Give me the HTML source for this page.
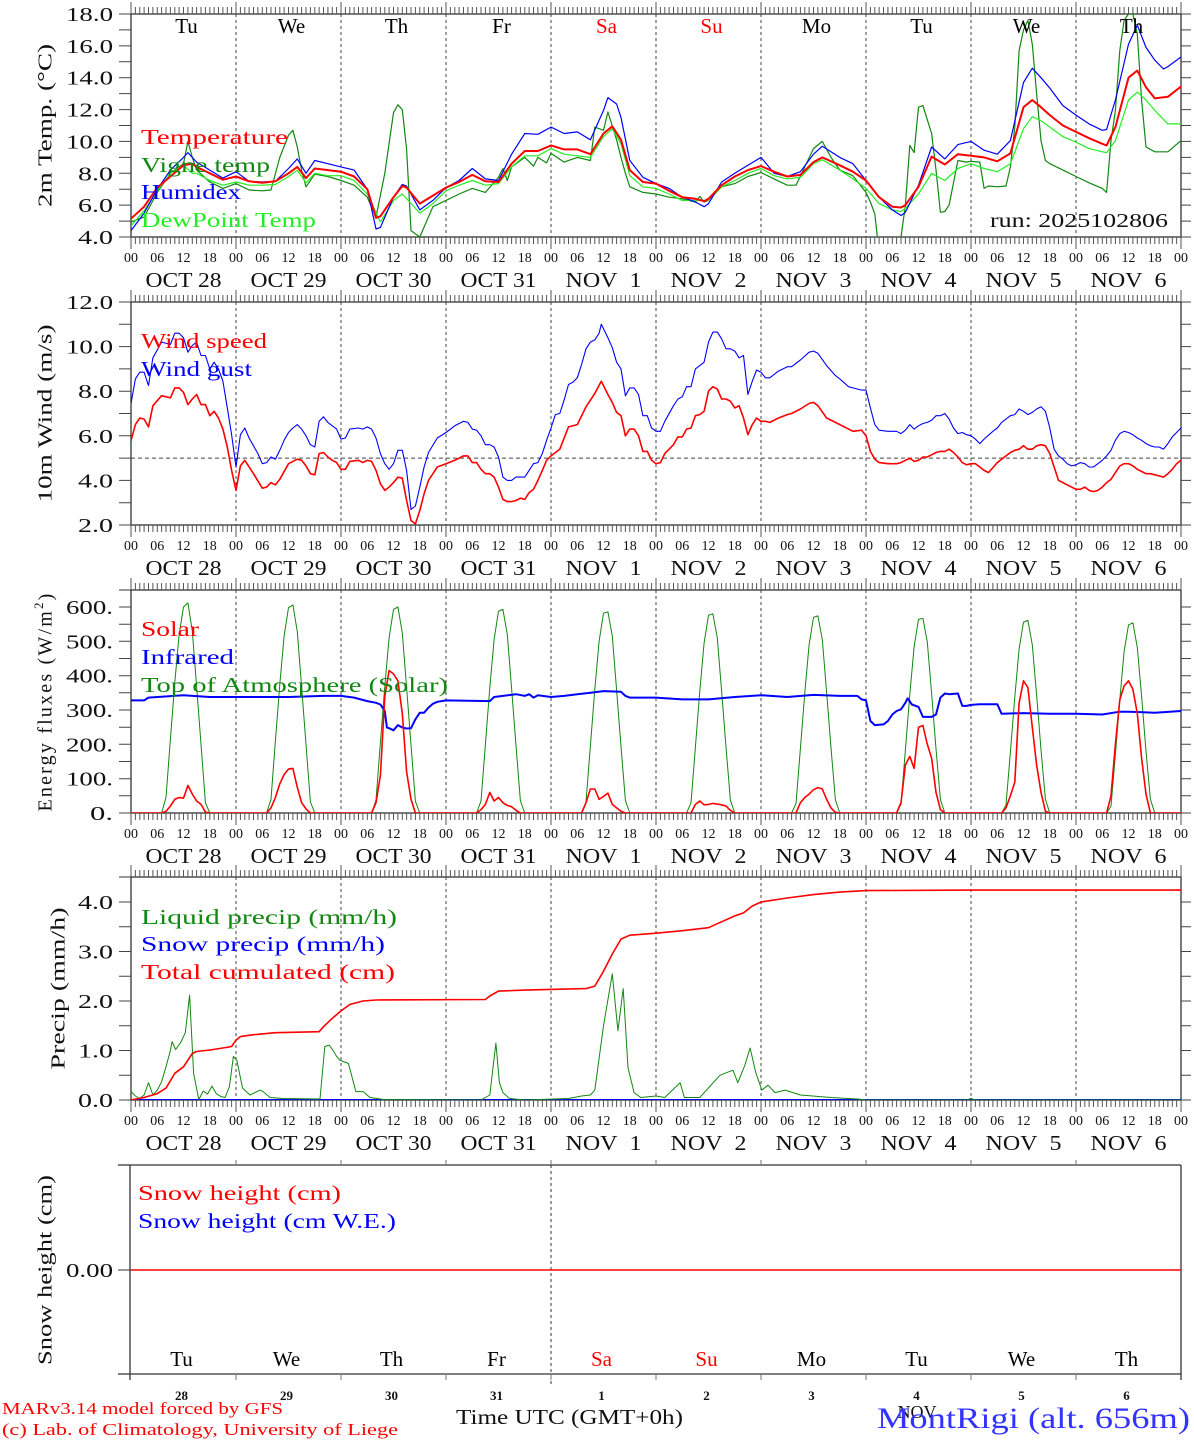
<!DOCTYPE html>
<html><head><meta charset="utf-8"><title>MontRigi MAR forecast</title>
<style>
html,body{margin:0;padding:0;background:#fff;}
svg{display:block;font-family:"Liberation Serif",serif;}
</style></head>
<body>
<svg id="chart" xmlns="http://www.w3.org/2000/svg" width="1194" height="1440" viewBox="0 0 1194 1440"></svg>
<script>
// ---------- DATA ----------
const dayNames = ['Tu','We','Th','Fr','Sa','Su','Mo','Tu','We','Th'];
const dayNameColors = ['#000','#000','#000','#000','#f00','#f00','#000','#000','#000','#000'];
const dateLabels = ['OCT 28','OCT 29','OCT 30','OCT 31','NOV\u00a0\u00a01','NOV\u00a0\u00a02','NOV\u00a0\u00a03','NOV\u00a0\u00a04','NOV\u00a0\u00a05','NOV\u00a0\u00a06'];
const dayNums = ['28','29','30','31','1','2','3','4','5','6'];

const tempH = [0,3,6,9,12,14,15,18,21,24,27,30,33,36,38,40,42,45,48,51,54,56,57,60,62,63,66,69,72,75,78,81,84,87,90,93,96,99,102,105,108,110,112,114,117,120,123,126,129,131,132,135,138,141,144,147,150,153,156,158,162,165,168,171,174,176,177,180,183,186,189,192,195,198,201,204,206,208,210,213,216,219,222,223,225,228,230,232,234,237,240];
const tempV = [5.15,5.9,7.1,7.8,8.5,8.6,8.4,8.0,7.6,7.8,7.5,7.4,7.5,8.0,8.4,7.7,8.3,8.2,8.1,7.8,7.0,5.2,5.3,6.5,7.2,7.1,6.1,6.6,7.1,7.45,7.9,7.5,7.45,8.6,9.4,9.4,9.75,9.5,9.5,9.2,10.5,10.95,10.1,8.2,7.45,7.35,6.9,6.5,6.4,6.25,6.4,7.25,7.8,8.2,8.45,8.1,7.8,7.9,8.7,9.0,8.5,8.1,7.55,6.5,5.9,5.85,6.0,7.15,9.05,8.55,9.2,9.1,9.0,8.75,9.25,12.15,12.6,12.15,11.65,11.0,10.6,10.2,9.85,9.75,10.9,14.0,14.45,13.4,12.7,12.8,13.45];

const humH = [0,3,6,9,12,13,15,18,21,24,27,30,33,36,38,40,42,45,48,51,54,56,57,60,62,63,66,69,72,75,78,81,84,87,90,93,96,99,102,105,108,109,111,112,114,117,120,123,126,129,131,132,135,138,141,144,147,150,153,156,158,162,165,168,171,174,176,177,180,183,186,189,192,195,198,201,204,206,208,210,213,216,219,222,223,225,228,230,232,234,236,237,240];
const humV = [4.4,5.5,7.0,8.2,9.0,9.3,8.7,8.2,7.7,8.1,7.5,7.45,7.5,8.3,8.9,8.0,8.8,8.6,8.4,8.2,7.0,4.5,4.6,6.5,7.3,7.2,5.7,6.3,7.1,7.55,8.3,7.65,7.55,9.2,10.5,10.45,10.9,10.5,10.6,10.1,11.95,12.75,12.35,11.5,8.8,7.75,7.35,7.05,6.5,6.2,5.9,6.1,7.45,8.0,8.5,9.0,8.0,7.8,8.1,9.2,9.7,9.0,8.6,7.55,6.5,5.7,5.35,5.55,7.25,9.65,8.9,9.8,10.0,9.45,9.2,10.05,13.7,14.6,14.0,13.35,12.25,11.65,11.1,10.7,10.75,12.6,16.1,17.3,15.9,15.1,14.55,14.7,15.3];

const dewH = [0,3,6,9,12,14,15,18,21,24,27,30,33,36,38,40,42,45,48,51,54,57,60,62,66,69,72,75,78,81,84,87,90,93,96,99,102,105,108,110,112,114,117,120,123,126,129,132,135,138,141,144,147,150,153,156,158,162,165,168,171,174,176,177,180,183,186,189,192,195,198,201,204,206,208,210,213,216,219,222,223,225,228,230,232,234,237,240];
const dewV = [4.7,5.65,6.9,8.0,8.5,8.0,8.0,7.55,7.25,7.45,7.25,7.25,7.3,7.8,8.2,7.4,8.0,7.85,7.85,7.55,6.7,4.95,6.3,6.7,5.5,6.1,6.9,7.25,7.55,7.25,7.35,8.4,9.1,9.1,9.55,9.2,9.1,9.0,10.3,10.8,9.85,7.85,7.15,7.05,6.7,6.3,6.3,6.3,7.15,7.55,8.0,8.3,7.85,7.65,7.75,8.6,8.85,8.2,7.65,7.05,6.1,5.7,5.6,5.8,6.7,8.0,7.55,8.3,8.6,8.3,8.1,8.6,10.8,11.55,11.3,10.9,10.3,9.95,9.55,9.35,9.3,10.05,12.6,13.1,12.6,11.95,11.1,11.1];

const vigneH = [0,3,6,9,12,13,14,15,18,21,24,27,30,32,34,36,37,38,39,40,42,45,48,51,54,56,58,60,61,62,63,64,66,69,72,75,78,81,84,85,86,87,90,92,93,95,96,99,102,105,106,108,109,111,112,113,114,117,120,123,126,129,130,131,132,135,138,141,144,147,150,152,156,158,160,162,165,168,169,170,171,174,175,176,177,178,179,180,181,183,184,185,186,187,189,191,192,194,195,196,198,200,201,202,203,204,205,206,207,208,209,210,213,216,219,222,223,224,225,226,227,228,229,230,231,232,234,237,240];
const vigneV = [4.95,5.25,6.8,8.0,8.6,10.0,9.0,8.2,7.45,7.05,7.35,6.95,6.9,6.95,9.0,10.4,10.7,9.65,8.2,7.15,7.95,7.8,7.55,7.25,6.5,5.25,8.0,11.8,12.3,12.0,9.5,4.4,4.0,5.9,6.3,6.7,7.05,6.8,7.75,8.3,7.55,8.4,9.0,8.45,9.0,8.65,9.25,8.7,9.0,8.8,10.9,10.7,11.85,10.1,9.0,8.0,7.15,6.8,6.7,6.5,6.4,6.2,6.55,6.2,6.3,7.15,7.35,7.8,8.05,7.65,7.25,7.25,9.55,10.0,9.0,8.2,7.85,6.8,6.2,5.45,3.0,2.0,2.0,4.0,6.0,9.75,9.3,12.15,12.25,10.5,8.2,5.55,5.6,6.0,8.8,8.7,8.75,8.7,7.05,7.2,7.15,7.2,8.4,10.9,15.7,17.0,17.6,16.1,13.0,10.05,8.8,8.6,8.2,7.8,7.4,7.05,6.8,10.05,11.95,15.7,17.6,18.0,18.0,16.75,12.6,9.65,9.35,9.35,10.05];

const windH = [0,1,2,3,4,5,7,9,10,11,12,13,14,15,16,17,18,19,20,21,22,23,24,25,26,28,30,31,32,33,34,36,38,39,40,41,42,43,44,45,46,47,48,49,50,52,53,54,55,56,57,58,59,60,61,62,63,64,65,66,67,68,70,72,74,76,77,78,79,80,81,82,83,84,85,86,87,88,89,90,91,92,93,94,95,96,98,100,102,104,106,107.5,109,110,111,112,113,114,115,116,117,118,119,120,121,122,124,125,126,127,128,129,130,131,132,133,134,135,136,137,138,139,140,141,142,143,144,145,146,148,150,151,153,155,156,157,159,161,162,164,165,167,168,169,170,171,173,175,176,177,178,179,180,181,182,183,184,185,186,187,188,189,190,191,192,193,194,195,196,198,199,201,202,203,204,205,206,207,208,209,210,211,212,213,214,215,216,217,218,219,220,221,222,223,224,225,226,227,228,229,230,231,232,233,234,235,236,237,238,239,240];
const windV = [5.78,6.5,6.8,6.75,6.4,7.35,7.8,7.7,8.15,8.15,7.95,7.4,7.65,7.85,7.4,7.4,6.9,7.1,6.8,6.3,5.5,4.45,3.55,4.65,4.9,4.3,3.65,3.7,3.9,3.8,4.05,4.75,4.95,4.9,4.65,4.3,4.25,5.2,5.25,5.05,4.9,4.8,4.5,4.5,4.85,4.9,4.8,4.9,4.85,4.45,3.85,3.55,3.7,3.9,4.15,4.1,3.1,2.2,2.05,2.65,3.4,4.0,4.6,4.75,4.9,5.1,5.1,4.8,4.8,4.5,4.3,4.3,4.15,3.7,3.15,3.05,3.05,3.1,3.2,3.15,3.45,3.6,4.0,4.45,4.9,5.1,5.4,6.4,6.5,7.3,7.9,8.45,7.85,7.5,7.05,6.9,6.0,6.3,6.3,6.0,5.3,5.3,4.9,4.75,4.8,5.2,5.6,5.95,5.95,6.3,6.35,6.9,6.95,7.1,8.0,8.2,8.1,7.65,7.65,7.55,7.25,7.35,6.8,6.05,6.5,6.8,6.65,6.65,6.6,6.8,6.95,7.0,7.2,7.45,7.5,7.35,6.8,6.6,6.5,6.3,6.2,6.25,6.0,5.3,4.95,4.8,4.75,4.75,4.8,4.9,5.0,4.85,4.9,5.05,5.05,5.15,5.25,5.3,5.3,5.4,5.25,5.05,4.8,4.7,4.75,4.75,4.6,4.45,4.35,4.8,4.95,5.25,5.35,5.4,5.55,5.4,5.4,5.55,5.6,5.55,5.2,4.6,4.0,3.9,3.8,3.7,3.6,3.6,3.7,3.55,3.5,3.55,3.7,3.9,4.05,4.35,4.65,4.75,4.75,4.65,4.5,4.4,4.3,4.3,4.25,4.2,4.15,4.3,4.5,4.75,4.9];

const gustH = [0,1,2,3,4,5,7,9,10,11,12,13,14,15,16,17,18,19,20,21,22,23,24,25,26,27,28,29,30,31,32,33,34,35,36,37,38,39,40,41,42,43,44,45,46,47,48,49,50,52,53,54,55,56,57,58,59,60,61,62,63,64,65,66,67,68,70,72,74,76,77,78,79,80,81,82,83,84,85,86,87,88,89,90,91,92,93,94,95,96,97,98,99,100,101,102,103,104,105,106,107,107.5,109,110,111,112,113,114,115,116,117,118,119,120,121,122,124,125,126,127,128,129,130,131,132,133,134,135,136,137,138,139,140,141,142,143,144,145,146,148,150,151,153,155,156,157,159,161,162,164,165,167,168,169,170,171,173,175,176,177,178,179,180,181,182,183,184,185,186,187,188,189,190,191,192,193,194,195,197,198,199,201,202,203,204,205,206,207,208,209,210,211,212,213,214,215,216,217,218,219,220,221,222,223,224,225,226,227,228,229,230,231,232,233,234,235,236,237,238,239,240];
const gustV = [7.45,8.55,8.85,8.85,8.25,9.5,10.2,10.1,10.6,10.6,10.4,9.75,10.05,10.2,9.6,9.6,9.0,9.3,9.0,8.45,7.25,6.05,4.6,6.05,6.35,5.9,5.55,5.2,4.75,4.8,5.05,4.95,5.35,5.8,6.15,6.35,6.5,6.3,6.0,5.6,5.5,6.65,6.85,6.6,6.45,6.3,5.85,5.9,6.3,6.35,6.3,6.4,6.3,5.9,5.2,4.75,4.5,4.75,5.35,5.35,4.45,2.7,2.85,3.7,4.6,5.25,5.9,6.15,6.45,6.65,6.6,6.3,6.25,6.0,5.6,5.6,5.5,5.05,4.15,4.0,4.0,4.15,4.15,4.15,4.45,4.75,4.8,5.2,5.8,6.35,6.95,7.0,7.6,8.3,8.4,8.6,9.2,9.9,10.2,10.3,10.6,11.0,10.4,9.95,9.3,9.0,7.8,8.15,8.15,7.85,6.9,6.9,6.35,6.2,6.2,6.65,7.35,7.65,7.75,8.2,8.2,9.0,9.15,9.3,10.2,10.65,10.65,10.35,9.9,9.9,9.8,9.5,9.6,7.85,8.45,8.95,8.85,8.6,8.6,8.9,9.1,9.1,9.4,9.75,9.8,9.7,9.15,8.7,8.55,8.2,8.15,8.05,8.05,7.25,6.5,6.25,6.2,6.2,6.1,6.25,6.5,6.3,6.45,6.55,6.6,6.7,6.9,6.9,7.0,6.75,6.35,6.1,6.15,6.05,6.0,5.85,5.65,5.85,6.2,6.35,6.6,6.9,6.95,7.2,7.1,6.95,7.05,7.2,7.3,7.1,6.35,5.4,5.1,4.95,4.75,4.65,4.7,4.8,4.75,4.6,4.6,4.75,4.9,5.1,5.35,5.8,6.1,6.2,6.15,6.05,5.9,5.8,5.65,5.55,5.5,5.5,5.4,5.65,5.95,6.15,6.35];

const fluxHours = [7,8,9,10,11,12,13,14,15,16,17,18];
const toaDay = [
 [0,45,215,380,520,600,612,530,370,200,30,0],
 [0,40,210,375,515,598,606,528,368,200,32,0],
 [0,38,205,370,510,593,600,525,365,198,34,0],
 [0,35,200,365,505,588,593,520,362,196,35,0],
 [0,32,196,360,500,582,586,515,358,194,36,0],
 [0,30,192,355,495,576,580,510,355,192,37,0],
 [0,28,188,350,490,570,574,505,352,190,38,0],
 [0,26,184,345,484,564,567,498,348,187,39,0],
 [0,23,178,338,478,556,561,490,344,184,40,0],
 [0,20,170,330,470,548,554,482,340,180,40,0]];
const solarDay = [
 [0,5,20,40,45,43,80,55,35,25,3,0],
 [0,15,45,85,112,128,130,75,30,12,0,0],
 [0,30,110,340,415,405,385,290,120,40,0,0],
 [0,10,25,60,35,45,30,22,18,8,0,0],
 [0,30,70,70,40,48,58,25,15,5,0,0],
 [0,0,25,35,24,25,28,26,24,20,8,0],
 [0,0,30,45,55,68,74,70,40,15,2,0],
 [0,30,140,165,130,250,255,200,160,60,10,0],
 [0,15,50,90,320,385,365,250,140,60,5,0],
 [0,50,200,330,370,385,360,290,160,55,0,0]];
const irH = [0,3,4,12,18,24,36,44,48,51,54,56,57,58,58.5,59,60,61,62,63,64,65,66,67,68,69,70,72,82,83,88,90,91,92,93,96,99,102,105,108,112,113,114,120,126,132,138,144,150,156,162,166,167,168,169,170,172,173,174,175,176,177,177.5,178.5,180,181,183,184,185,186,187,189,190,191,192,194,198,199,204,210,216,222,226,228,234,240];
const irV = [328,328,336,343,338,338,338,341,341,336,326,321,316,297,249,247,241,256,249,246,247,273,292,292,307,318,324,328,326,338,346,341,346,336,343,338,341,346,350,355,353,341,336,336,331,331,338,343,338,344,341,341,331,328,268,256,258,268,287,297,302,321,334,316,309,280,280,287,336,348,346,348,312,312,315,317,317,289,291,289,289,287,295,295,292,297];

const liqH = [0,1,2,3,4,5,6,7,8,9,9.4,10.2,11.3,12.4,13.4,14.3,15.5,16.5,17.5,18.5,19.5,20.5,21.5,22.5,23.4,24.2,24.9,25.5,27.2,29.5,30.2,31.8,34.8,43.2,44.3,45.3,46.2,47,47.8,49.7,51.4,53.1,54.6,57.7,80,82,83.4,84.2,85,86.5,90,100,103,105,106,108,110,111.3,112.5,113.6,115,116.5,120,122,125.5,126.5,130,134.6,136,137.6,138.7,140.3,141.5,142.8,144.2,145.6,147.2,149.5,153,160,166,168,191,192,193,240];
const liqV = [0.17,0.08,0.03,0.1,0.35,0.1,0.2,0.37,0.67,1.0,1.18,1.02,1.15,1.36,2.12,0.54,0.01,0.18,0.12,0.28,0.13,0.07,0.05,0.27,0.88,0.8,0.5,0.24,0.1,0.2,0.17,0.05,0.03,0.02,1.08,1.11,1.0,0.88,0.8,0.74,0.17,0.17,0.05,0.01,0.0,0.1,1.15,0.35,0.15,0.03,0.0,0.03,0.08,0.1,0.2,1.5,2.55,1.4,2.25,0.65,0.15,0.05,0.08,0.05,0.35,0.05,0.05,0.5,0.55,0.6,0.35,0.7,1.05,0.55,0.2,0.3,0.15,0.2,0.1,0.05,0.02,0.0,0.0,0.03,0.0,0.0];
const cumH = [0,3,6,8,10,12,14,15,18,21,23,24,25,28,33,43,44,46,48,50,53,56,81,82,84,90,104,106,108,110,112,114,120,126,132,135,138,140,142,144,150,156,162,168,192,240];
const cumV = [0,0.05,0.13,0.24,0.54,0.67,0.94,0.98,1.01,1.05,1.08,1.21,1.28,1.32,1.36,1.38,1.48,1.65,1.8,1.93,2.0,2.02,2.03,2.1,2.2,2.22,2.25,2.3,2.6,2.95,3.25,3.33,3.37,3.42,3.48,3.6,3.72,3.78,3.92,4.0,4.08,4.15,4.2,4.23,4.24,4.24];
const snowH = [0,240];
const snowV = [0,0];

// ---------- DRAWING ----------
const NS='http://www.w3.org/2000/svg';
const svg=document.getElementById('chart');
function mk(tag, attrs, parent){const e=document.createElementNS(NS,tag);for(const k in attrs)e.setAttribute(k,attrs[k]);(parent||svg).appendChild(e);return e;}
const X0=131, X1=1181, PXH=(X1-X0)/240;
function xh(h){return X0+h*PXH;}

const panels=[
 {key:'temp', top:14, bottom:237, y:v=>14+(18-v)*(223/14), ticks:[4,6,8,10,12,14,16,18], minor:[5,7,9,11,13,15,17], fmt:v=>v.toFixed(1), title:'2m Temp. (\u00b0C)', tx:47, tl:163},
 {key:'wind', top:302, bottom:525, y:v=>302+(12-v)*22.3, ticks:[2,4,6,8,10,12], minor:[3,5,7,9,11], fmt:v=>v.toFixed(1), title:'10m Wind (m/s)', tx:47, tl:178},
 {key:'energy', top:590, bottom:813, y:v=>813-v*(206/600), ticks:[0,100,200,300,400,500,600], minor:[50,150,250,350,450,550], fmt:v=>v+'.', title:'Energy fluxes (W/m', tx:47, tl:0},
 {key:'precip', top:877, bottom:1100, y:v=>1100-v*49.5, ticks:[0,1,2,3,4], minor:[0.5,1.5,2.5,3.5], fmt:v=>v.toFixed(1), title:'Precip (mm/h)', tx:60, tl:162}
];

panels.forEach((p,pi)=>{
  const g=mk('g',{});
  
  
  for(let d=1;d<10;d++){
    const l=mk('line',{x1:xh(d*24),x2:xh(d*24),y1:p.top,y2:p.bottom,stroke:'#444','stroke-width':1,'stroke-dasharray':'3,3'},g);
    
    
  }
  const fr=mk('rect',{x:X0,y:p.top,width:X1-X0,height:p.bottom-p.top,fill:'none',stroke:'#333','stroke-width':1.3},g);
  
  
  let tp='';
  for(let h=0;h<=240;h++){
    const x=xh(h).toFixed(1); const len=(h%24===0)?12:7;
    tp+=`M${x},${p.top}v${-len}M${x},${p.bottom}v${len}`;
  }
  const xt=mk('path',{d:tp,stroke:'#555','stroke-width':1,fill:'none'},g);
  
  
  let yp='';
  p.ticks.concat(p.minor).forEach(v=>{const y=p.y(v).toFixed(1);yp+=`M${X0},${y}h-12M${X1},${y}h10`;});
  mk('line',{x1:X0-12,x2:X0,y1:p.top,y2:p.top,stroke:'#333'},g);
  mk('line',{x1:X0-12,x2:X0,y1:p.bottom,y2:p.bottom,stroke:'#333'},g);
  const yt=mk('path',{d:yp,stroke:'#444','stroke-width':1,fill:'none'},g);
  
  
  p.ticks.forEach(v=>{
    const s=p.fmt(v);
    const t=mk('text',{x:113,y:p.y(v)+7,'text-anchor':'end','font-size':20,fill:'#111',textLength:(s.length*11.7).toFixed(0),lengthAdjust:'spacingAndGlyphs'},g);
    t.textContent=s;
    
    
  });
  const hb=p.bottom+25;
  for(let h=0;h<=240;h+=6){
    const t=mk('text',{x:xh(h),y:hb,'text-anchor':'middle','font-size':14,fill:'#111'},g);
    t.textContent=String(h%24).padStart(2,'0');
    
    
  }
  dateLabels.forEach((s,i)=>{
    const t=mk('text',{x:xh(i*24+12),y:p.bottom+50,'text-anchor':'middle','font-size':21,fill:'#111',textLength:76,lengthAdjust:'spacingAndGlyphs'},g);
    t.textContent=s;
    
    
  });
  const cy=(p.top+p.bottom)/2;
  const ta={x:p.tx,y:cy,'text-anchor':'middle','font-size':20,fill:'#111',transform:`rotate(-90 ${p.tx} ${cy})`,'dominant-baseline':'middle'};
  if(p.tl){ta.textLength=p.tl;ta.lengthAdjust='spacingAndGlyphs';}
  const tt=mk('text',ta,g);
  tt.textContent=p.title;
  if(p.key==='energy'){tt.setAttribute('letter-spacing','2.2');const s=mk('tspan',{'font-size':13,dy:-7},tt);s.textContent='2';const s2=mk('tspan',{dy:7},tt);s2.textContent=')';}
  
  
  const cp=mk('clipPath',{id:'clip'+pi});
  mk('rect',{x:X0,y:p.top,width:X1-X0,height:p.bottom-p.top},cp);
  p.g=g;
});

dayNames.forEach((s,i)=>{
  const t=mk('text',{x:xh(i*24+12)+3,y:33,'text-anchor':'middle','font-size':21,fill:dayNameColors[i]});
  t.textContent=s;
  
  
});

function line(pi, H, V, color, w, name){
  const p=panels[pi];
  let d='';
  H.forEach((h,i)=>{d+=(i?'L':'M')+xh(h).toFixed(1)+','+p.y(V[i]).toFixed(1);});
  const e=mk('path',{d:d,fill:'none',stroke:color,'stroke-width':w,'stroke-linejoin':'round','clip-path':`url(#clip${pi})`},p.g);
  
  
  return e;
}
function dayLine(pi, days, color, w, name){
  const H=[],V=[];
  days.forEach((arr,d)=>arr.forEach((v,k)=>{H.push(d*24+fluxHours[k]);V.push(v);}));
  H.unshift(0);V.unshift(0);H.push(240);V.push(0);
  return line(pi,H,V,color,w,name);
}

function legend(x,y,txt,color,len,name){
  const t=mk('text',{x:x,y:y,'font-size':21,fill:color,textLength:len,lengthAdjust:'spacingAndGlyphs'});
  t.textContent=txt;
  
  
}

// Panel 1
line(0,vigneH,vigneV,'#118811',1.2,'vigne-temp-line');
line(0,dewH,dewV,'#22ee22',1.2,'dewpoint-line');
line(0,humH,humV,'#0000ff',1.2,'humidex-line');
line(0,tempH,tempV,'#ff0000',2,'temperature-line');
legend(141,144,'Temperature','#ff0000',147,'legend-temperature');
legend(141,172,'Vigne temp','#118811',129,'legend-vigne-temp');
legend(141,199,'Humidex','#0000ff',100,'legend-humidex');
legend(141,227,'DewPoint Temp','#22ee22',175,'legend-dewpoint');
const run=mk('text',{x:990,y:227,'font-size':20,fill:'#111',textLength:178,lengthAdjust:'spacingAndGlyphs'});
run.textContent='run: 2025102806';



// Panel 2
const ref=mk('line',{x1:X0,x2:X1,y1:panels[1].y(5),y2:panels[1].y(5),stroke:'#444','stroke-dasharray':'4,3'},panels[1].g);


line(1,gustH,gustV,'#0000ff',1.1,'wind-gust-line');
line(1,windH,windV,'#ff0000',1.6,'wind-speed-line');
legend(141,348,'Wind speed','#ff0000',126,'legend-wind-speed');
legend(141,376,'Wind gust','#0000ff',111,'legend-wind-gust');

// Panel 3
dayLine(2,toaDay,'#118811',1,'toa-solar-line');
line(2,irH,irV,'#0000ff',2,'infrared-line');
dayLine(2,solarDay,'#ff0000',1.6,'solar-line');
legend(141,636,'Solar','#ff0000',58,'legend-solar');
legend(141,664,'Infrared','#0000ff',93,'legend-infrared');
legend(141,692,'Top of Atmosphere (Solar)','#118811',307,'legend-toa');

// Panel 4
line(3,snowH,snowV,'#0000ff',2,'snow-precip-line');
line(3,liqH,liqV,'#118811',1,'liquid-precip-line');
line(3,cumH,cumV,'#ff0000',1.6,'cumulated-precip-line');
legend(141,924,'Liquid precip (mm/h)','#118811',256,'legend-liquid-precip');
legend(141,951,'Snow precip (mm/h)','#0000ff',244,'legend-snow-precip');
legend(141,979,'Total cumulated (cm)','#ff0000',254,'legend-total-cumulated');

// Panel 5 (snow height)
const g5=mk('g',{});


const T5=1165,B5=1374,Y0=1270;
mk('line',{x1:118,x2:X1,y1:T5,y2:T5,stroke:'#333','stroke-width':1.3},g5);
mk('line',{x1:118,x2:X1,y1:B5,y2:B5,stroke:'#333','stroke-width':1.3},g5);
mk('line',{x1:X0-1,x2:X0-1,y1:T5,y2:B5+6,stroke:'#333','stroke-width':1.3},g5);
mk('line',{x1:X1,x2:X1,y1:T5,y2:B5+6,stroke:'#333','stroke-width':1.3},g5);
mk('line',{x1:118,x2:X0,y1:Y0,y2:Y0,stroke:'#333'},g5);
const nov1=mk('line',{x1:xh(96),x2:xh(96),y1:T5,y2:B5+12,stroke:'#333','stroke-dasharray':'3,3'},g5);


let t5='';
for(let d=1;d<10;d++){const x=xh(d*24).toFixed(1);t5+=`M${x},${T5}v-5M${x},${B5}v6`;}
mk('path',{d:t5,stroke:'#777',fill:'none'},g5);
const sh=mk('line',{x1:X0,x2:X1,y1:Y0,y2:Y0,stroke:'#ff0000','stroke-width':1.6},g5);


const yl5=mk('text',{x:113,y:Y0+7,'text-anchor':'end','font-size':20,fill:'#111',textLength:47,lengthAdjust:'spacingAndGlyphs'},g5);
yl5.textContent='0.00';


const tt5=mk('text',{x:47,y:Y0,'text-anchor':'middle','font-size':20,fill:'#111',transform:`rotate(-90 47 ${Y0})`,'dominant-baseline':'middle',textLength:190,lengthAdjust:'spacingAndGlyphs'},g5);
tt5.textContent='Snow height (cm)';


legend(138,1200,'Snow height (cm)','#ff0000',203,'legend-snow-height');
legend(138,1228,'Snow height (cm W.E.)','#0000ff',258,'legend-snow-we');
dayNames.forEach((s,i)=>{
  const t=mk('text',{x:xh(i*24+12)-2,y:1366,'text-anchor':'middle','font-size':21,fill:dayNameColors[i]},g5);
  t.textContent=s;
  
  
  const n=mk('text',{x:xh(i*24+12)-2,y:1400,'text-anchor':'middle','font-size':13,'font-weight':'bold',fill:'#111'},g5);
  n.textContent=dayNums[i];
  
  
});

// Footer
const f1=mk('text',{x:2,y:1414,'font-size':17,fill:'#ff0000',textLength:281,lengthAdjust:'spacingAndGlyphs'});
f1.textContent='MARv3.14 model forced by GFS';


const f2=mk('text',{x:2,y:1435,'font-size':17,fill:'#ff0000',textLength:396,lengthAdjust:'spacingAndGlyphs'});
f2.textContent='(c) Lab. of Climatology, University of Liege';


const xt5=mk('text',{x:456,y:1424,'font-size':21,fill:'#111',textLength:227,lengthAdjust:'spacingAndGlyphs'});
xt5.textContent='Time UTC (GMT+0h)';


const nv=mk('text',{x:917,y:1418,'text-anchor':'middle','font-size':18,fill:'#111'});
nv.textContent='NOV';


const st=mk('text',{x:877,y:1428,'font-size':30,fill:'#3333ff',textLength:313,lengthAdjust:'spacingAndGlyphs'});
st.textContent='MontRigi (alt. 656m)';


</script>
</body></html>
